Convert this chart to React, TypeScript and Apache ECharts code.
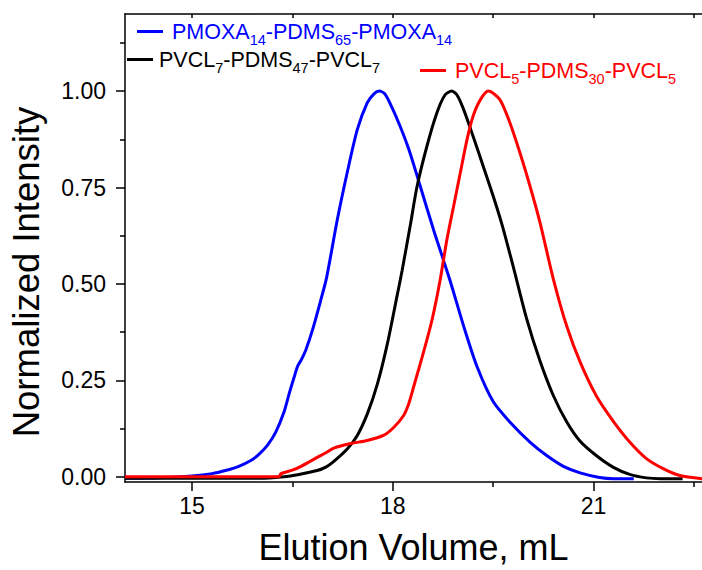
import React, { useEffect, useRef } from "react";
import * as echarts from "echarts";

const FONT = "'Liberation Sans', Arial, Helvetica, sans-serif";

const seriesNames = ["PMOXA14-PDMS65-PMOXA14", "PVCL7-PDMS47-PVCL7", "PVCL5-PDMS30-PVCL5"];
const seriesColors = ["#0000FF", "#000000", "#FF0000"];
const legendRich = [
  "{f|PMOXA}{s|14}{m|-PDMS}{s|65}{m|-PMOXA}{s|14}",
  "{f|PVCL}{s|7}{m|-PDMS}{s|47}{m|-PVCL}{s|7}",
  "{f|PVCL}{s|5}{m|-PDMS}{s|30}{m|-PVCL}{s|5}",
];

const xMajorTicks = [15, 18, 21];
const xMinorTicks = [16.5, 19.5, 22.5];
const xTopTicks = [15, 16.5, 18, 19.5, 21, 22.5];
const yMajorTicks = [0, 0.25, 0.5, 0.75, 1.0];
const yMinorTicks = [0.125, 0.375, 0.625, 0.875, 1.125];

const pmoxa: [number, number][] = [
  [14.0, -0.004], [14.5, -0.003], [15.0, 0.002], [15.3, 0.008], [15.5, 0.016], [15.7, 0.027],
  [15.88, 0.042], [16.0, 0.058], [16.13, 0.082], [16.25, 0.115], [16.37, 0.165], [16.46, 0.22],
  [16.53, 0.26], [16.58, 0.287], [16.63, 0.302], [16.7, 0.328], [16.8, 0.38],
  [16.92, 0.455], [17.01, 0.515], [17.17, 0.665], [17.32, 0.789], [17.47, 0.9], [17.62, 0.97],
  [17.72, 0.993], [17.8, 1.0], [17.88, 0.993], [17.96, 0.968], [18.11, 0.909], [18.24, 0.849],
  [18.41, 0.754], [18.61, 0.64], [18.85, 0.512], [19.06, 0.39], [19.26, 0.285], [19.5, 0.195],
  [19.77, 0.138], [20.05, 0.09], [20.3, 0.055], [20.55, 0.027], [20.8, 0.01], [21.09, -0.002],
  [21.3, -0.005], [21.6, -0.005],
];

const pvcl7: [number, number][] = [
  [14.0, -0.004], [16.0, -0.004], [16.37, 0.0], [16.6, 0.006], [16.87, 0.016], [17.0, 0.025],
  [17.12, 0.04], [17.32, 0.072], [17.47, 0.107], [17.62, 0.163], [17.77, 0.24], [17.92, 0.345],
  [18.06, 0.465], [18.14, 0.535], [18.26, 0.65], [18.36, 0.75], [18.51, 0.857], [18.66, 0.944],
  [18.78, 0.99], [18.88, 1.0], [18.96, 0.99], [19.06, 0.952], [19.2, 0.883], [19.35, 0.806],
  [19.5, 0.728], [19.63, 0.655], [19.8, 0.545], [20.0, 0.41], [20.2, 0.3], [20.4, 0.21],
  [20.6, 0.142], [20.8, 0.092], [21.04, 0.055], [21.29, 0.025], [21.54, 0.006], [21.79, -0.003],
  [22.0, -0.005], [22.33, -0.005],
];

const pvcl5: [number, number][] = [
  [14.0, 0.0], [16.3, 0.0], [16.33, 0.008], [16.5, 0.017], [16.63, 0.027], [16.87, 0.05],
  [17.0, 0.062], [17.12, 0.074], [17.37, 0.086], [17.62, 0.094], [17.86, 0.107], [18.01, 0.127],
  [18.16, 0.158], [18.24, 0.19], [18.31, 0.232], [18.46, 0.323], [18.59, 0.409], [18.71, 0.512], [18.81, 0.616],
  [18.91, 0.702], [19.01, 0.789], [19.11, 0.875], [19.2, 0.935], [19.31, 0.978], [19.43, 1.0],
  [19.6, 0.978], [19.75, 0.918], [19.9, 0.84], [20.05, 0.754], [20.2, 0.659], [20.4, 0.512],
  [20.6, 0.39], [20.8, 0.297], [21.04, 0.21], [21.29, 0.145], [21.54, 0.09], [21.79, 0.047],
  [22.04, 0.021], [22.29, 0.003], [22.62, -0.005],
];

const seriesData = [pmoxa, pvcl7, pvcl5];
const legendLeft = [137, 127, 420];
const legendTop = [16, 44, 55];
const legendPad = [4, 1, 4];

export default function App() {
  const ref = useRef<HTMLDivElement>(null);
  useEffect(() => {
    if (!ref.current) return;
    const chart = echarts.init(ref.current, undefined, { renderer: "svg" });
    const axisLineStyle = { color: "#000", width: 1.5 };
    const option: any = {
      animation: false,
      backgroundColor: "#fff",
      textStyle: { fontFamily: FONT },
      grid: { left: 124, top: 14, right: 0, bottom: 86.7 },
      legend: seriesNames.map((n, i) => ({
        data: [n],
        left: legendLeft[i],
        top: legendTop[i],
        padding: 0,
        icon: "rect",
        itemWidth: 26,
        itemHeight: 3,
        selectedMode: false,
        formatter: () => legendRich[i],
        textStyle: {
          rich: {
            f: { fontSize: 21.5, color: seriesColors[i], lineHeight: 22, padding: [0, 0, 0, legendPad[i]], fontFamily: FONT },
            m: { fontSize: 21.5, color: seriesColors[i], lineHeight: 22, fontFamily: FONT },
            s: { fontSize: 14.5, color: seriesColors[i], lineHeight: 14, padding: [16, 0, 0, 0], fontFamily: FONT },
          },
        },
      })),
      xAxis: [
        {
          type: "value", min: 14, max: 22.62, position: "bottom",
          axisLine: { show: true, onZero: false, lineStyle: axisLineStyle },
          axisTick: { show: true, inside: false, length: 9, customValues: xMajorTicks, lineStyle: axisLineStyle },
          axisLabel: { customValues: xMajorTicks, fontSize: 23, color: "#000", margin: 12, fontFamily: FONT },
          splitLine: { show: false },
          name: "Elution Volume, mL", nameLocation: "middle", nameGap: 47,
          nameTextStyle: { fontSize: 36, color: "#000", fontFamily: FONT },
        },
        {
          type: "value", min: 14, max: 22.62, position: "bottom",
          axisLine: { show: false, onZero: false },
          axisTick: { show: true, inside: false, length: 5, customValues: xMinorTicks, lineStyle: axisLineStyle },
          axisLabel: { show: false },
          splitLine: { show: false },
        },
        {
          type: "value", min: 14, max: 22.62, position: "top",
          axisLine: { show: true, onZero: false, lineStyle: axisLineStyle },
          axisTick: { show: true, inside: true, length: 4, customValues: xTopTicks, lineStyle: axisLineStyle },
          axisLabel: { show: false },
          splitLine: { show: false },
        },
      ],
      yAxis: [
        {
          type: "value", min: -0.0137, max: 1.2, position: "left",
          axisLine: { show: true, onZero: false, lineStyle: axisLineStyle },
          axisTick: { show: true, inside: false, length: 9, customValues: yMajorTicks, lineStyle: axisLineStyle },
          axisLabel: {
            customValues: yMajorTicks, fontSize: 23, color: "#000", margin: 19, fontFamily: FONT,
            formatter: (v: number) => v.toFixed(2),
          },
          splitLine: { show: false },
          name: "Normalized Intensity", nameLocation: "middle", nameRotate: 90, nameGap: 80,
          nameTextStyle: { fontSize: 36.5, color: "#000", fontFamily: FONT, padding: [0, 48, 0, 0] },
        },
        {
          type: "value", min: -0.0137, max: 1.2, position: "left",
          axisLine: { show: false, onZero: false },
          axisTick: { show: true, inside: false, length: 5, customValues: yMinorTicks, lineStyle: axisLineStyle },
          axisLabel: { show: false },
          splitLine: { show: false },
        },
      ],
      series: seriesNames.map((n, i) => ({
        name: n,
        type: "line",
        xAxisIndex: 0,
        yAxisIndex: 0,
        symbol: "none",
        smooth: 0.25,
        data: seriesData[i],
        lineStyle: { color: seriesColors[i], width: 3 },
        itemStyle: { color: seriesColors[i] },
        z: 2 + i,
      })),
    };
    chart.setOption(option);
    return () => chart.dispose();
  }, []);
  return (
    <div
      ref={ref}
      style={{ position: "absolute", left: 0, top: 0, width: 702, height: 570 }}
    />
  );
}
